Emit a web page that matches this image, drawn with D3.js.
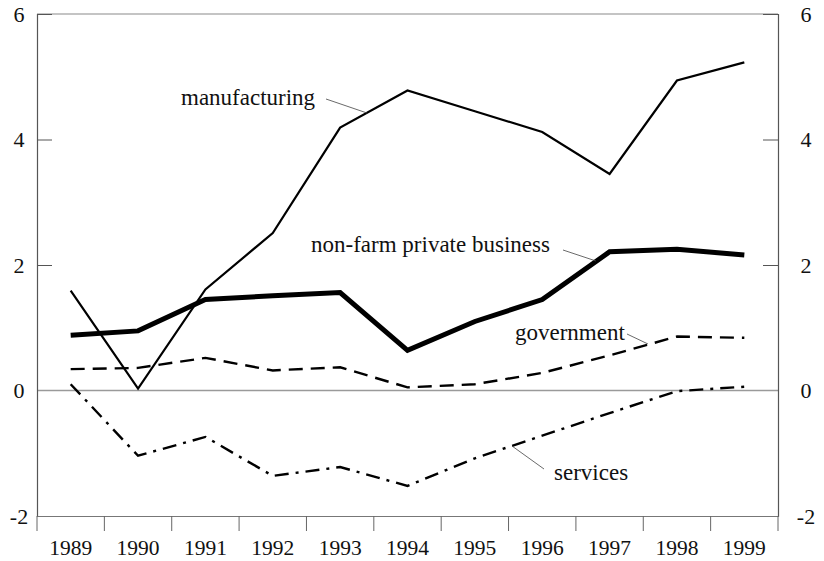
<!DOCTYPE html>
<html>
<head>
<meta charset="utf-8">
<script src="https://cdn.jsdelivr.net/npm/d3@7"></script>
<style>
  html, body { margin: 0; padding: 0; background: #fff; }
  svg { display: block; }
  text { font-family: "Liberation Serif", "Times New Roman", serif; fill: #111; }
</style>
</head>
<body>
<svg id="chart" width="824" height="561"></svg>
<script>
// Productivity growth by sector, annual % change
const years = ["1989", "1990", "1991", "1992", "1993", "1994", "1995", "1996", "1997", "1998", "1999"];
const manufacturing = [1.59, 0.03, 1.61, 2.51, 4.19, 4.78, 4.45, 4.12, 3.45, 4.94, 5.23];
const nonFarm = [0.88, 0.95, 1.45, 1.51, 1.56, 0.64, 1.10, 1.45, 2.21, 2.25, 2.16];
const government = [0.34, 0.36, 0.52, 0.32, 0.37, 0.05, 0.10, 0.28, 0.56, 0.86, 0.84];
const services = [0.10, -1.04, -0.74, -1.36, -1.22, -1.52, -1.08, -0.72, -0.36, -0.01, 0.06];
const yTicks = [-2, 0, 2, 4, 6];

const svg = d3.select("#chart");
const plotLeft = 37, plotRight = 778, plotTop = 14, plotBottom = 516;

const x = d3.scaleBand().domain(years).range([plotLeft, plotRight]);
const y = d3.scaleLinear().domain([-2, 6]).range([plotBottom, plotTop]);
const cx = d => x(d) + x.bandwidth() / 2;
const fmt = d => String(d);

// frame
svg.append("line").attr("x1", plotLeft).attr("x2", plotRight).attr("y1", plotTop).attr("y2", plotTop)
  .attr("stroke", "#8a8a8a").attr("stroke-width", 1.2);
svg.append("line").attr("x1", plotLeft).attr("x2", plotRight).attr("y1", y(0)).attr("y2", y(0))
  .attr("stroke", "#9a9a9a").attr("stroke-width", 1.6);

// left axis, ticks pointing inward
const yLeft = svg.append("g").attr("transform", `translate(${plotLeft},0)`)
  .call(d3.axisLeft(y).tickValues(yTicks).tickSize(-15).tickPadding(18).tickFormat(fmt));
// right axis, ticks pointing inward
const yRight = svg.append("g").attr("transform", `translate(${plotRight},0)`)
  .call(d3.axisRight(y).tickValues(yTicks).tickSize(-15).tickPadding(28).tickFormat(fmt));
[yLeft, yRight].forEach(g => {
  g.select(".domain").attr("stroke", "#555").attr("stroke-width", 1.2);
  g.selectAll(".tick line").attr("stroke", "#555").attr("stroke-width", 1);
  g.selectAll(".tick text").attr("font-size", 22).attr("font-family", "Liberation Serif")
    .attr("text-anchor", "middle").attr("fill", "#111");
});
yLeft.selectAll(".tick").filter(d => d === 6 || d === 0).select("line").remove();
yRight.selectAll(".tick").filter(d => d === 6 || d === 0).select("line").remove();

// bottom axis: ticks on band boundaries, labels at band centres
const xAxis = svg.append("g").attr("transform", `translate(0,${plotBottom})`)
  .call(d3.axisBottom(x).tickSize(0).tickPadding(24));
xAxis.select(".domain").attr("stroke", "#777").attr("stroke-width", 1.2);
xAxis.selectAll(".tick text").attr("font-size", 21.5).attr("font-family", "Liberation Serif").attr("fill", "#111");
const bounds = years.map(d => x(d)).concat([plotRight]);
svg.append("g").selectAll("line").data(bounds).join("line")
  .attr("x1", d => d).attr("x2", d => d).attr("y1", plotBottom).attr("y2", plotBottom + 15)
  .attr("stroke", "#666").attr("stroke-width", 1);

// series
const line = vals => d3.line().x((d, i) => cx(years[i])).y(d => y(d))(vals);
const series = [
  { vals: manufacturing, w: 2.2, dash: null },
  { vals: nonFarm, w: 5, dash: null },
  { vals: government, w: 2.4, dash: "14 8" },
  { vals: services, w: 2.4, dash: "14 7 3 7" }
];
svg.append("g").selectAll("path").data(series).join("path")
  .attr("d", s => line(s.vals))
  .attr("fill", "none").attr("stroke", "#000")
  .attr("stroke-width", s => s.w)
  .attr("stroke-dasharray", s => s.dash)
  .attr("stroke-linejoin", "miter");

// series labels with leader lines
const notes = [
  { text: "manufacturing", tx: 181, ty: 105, lx1: 326, ly1: 99, lx2: 367, ly2: 113 },
  { text: "non-farm private business", tx: 311, ty: 252, lx1: 563, ly1: 250, lx2: 596, ly2: 261 },
  { text: "government", tx: 515, ty: 340, lx1: 627, ly1: 334, lx2: 648, ly2: 344 },
  { text: "services", tx: 554, ty: 480, lx1: 512, ly1: 446, lx2: 544, ly2: 469 }
];
const ng = svg.append("g");
ng.selectAll("text").data(notes).join("text")
  .attr("x", d => d.tx).attr("y", d => d.ty)
  .attr("font-size", 23).text(d => d.text);
ng.selectAll("line").data(notes).join("line")
  .attr("x1", d => d.lx1).attr("y1", d => d.ly1).attr("x2", d => d.lx2).attr("y2", d => d.ly2)
  .attr("stroke", "#444").attr("stroke-width", 0.8);
</script>
</body>
</html>
